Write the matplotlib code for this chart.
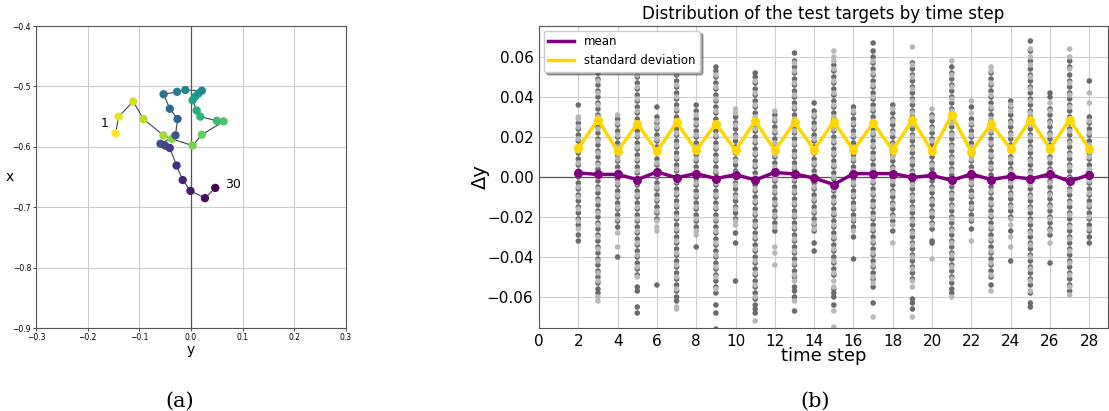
import numpy as np
import matplotlib
matplotlib.use('Agg')
import matplotlib.pyplot as plt

# ---- (a) trajectory, 30 steps (y, x) ----
traj_y = [-0.146, -0.140, -0.112, -0.092, -0.0535, -0.037, 0.003, 0.021, 0.063, 0.050,
          0.018, 0.011, 0.003, 0.008, 0.014, 0.021, -0.011, -0.027, -0.053, -0.041,
          -0.026, -0.030, -0.059, -0.050, -0.041, -0.028, -0.016, -0.001, 0.027, 0.047]
traj_x = [-0.5775, -0.550, -0.525, -0.554, -0.581, -0.587, -0.598, -0.580, -0.558, -0.557,
          -0.550, -0.540, -0.523, -0.517, -0.512, -0.507, -0.506, -0.509, -0.513, -0.537,
          -0.554, -0.581, -0.595, -0.598, -0.602, -0.631, -0.655, -0.673, -0.685, -0.668]

# ---- (b) distribution of test targets by time step (values in 1e-3) ----
steps = list(range(2, 29))
mean_vals = [2.0, 1.3, 1.3, -1.3, 2.5, -0.3, 1.7, -0.8, 1.2, -1.5, 2.3, 1.5, -0.5, -3.8,
             1.7, 1.7, 1.7, -0.2, 0.8, -1.7, 1.5, -1.3, 0.3, -1.0, 1.5, -2.2, 1.2]
std_vals = [14.3, 28.7, 12.8, 26.7, 12.8, 27.3, 13.3, 26.7, 13.3, 28.0, 13.3, 27.3, 13.7, 27.7,
            13.3, 27.0, 13.3, 28.7, 12.8, 31.0, 12.5, 26.7, 14.0, 28.7, 14.2, 28.7, 14.0]

dark_pts = [
    [36, 27, 24, 21, 18, 15, 12, 9, 6, 3, 0, -3, -6, -9, -12, -15, -18, -21, -24, -29, -32],  # 2
    [70, 66, 62, 58, 55, 52, 49, 46, 43, 40, 37, 34, 31, 28, 25, 22, 19, 16, 13, 10, 7, 4, 1, -2, -5,
     -8, -11, -14, -17, -20, -23, -26, -29, -32, -35, -38, -41, -44, -47, -50, -53, -56, -58],  # 3
    [29, 26, 23, 20, 17, 14, 11, 8, 5, 2, -1, -4, -7, -10, -13, -16, -19, -22, -25, -40],  # 4
    [69, 66, 62, 59, 56, 53, 50, 47, 44, 41, 38, 35, 32, 29, 26, 23, 20, 17, 14, 11, 8, 5, 2, -1, -4,
     -7, -10, -13, -16, -19, -22, -25, -28, -31, -34, -37, -40, -43, -46, -49, -55, -57, -65, -68],  # 5
    [35, 30, 27, 24, 21, 18, 15, 12, 9, 6, 3, 0, -3, -6, -9, -12, -15, -18, -21, -54],  # 6
    [70, 67, 63, 60, 57, 54, 51, 48, 45, 42, 39, 36, 33, 30, 27, 24, 21, 18, 15, 12, 9, 6, 3, 0, -3,
     -6, -9, -12, -15, -18, -21, -24, -27, -30, -33, -36, -39, -42, -45, -48, -51, -54, -57, -60, -62],  # 7
    [36, 33, 29, 26, 23, 20, 17, 14, 11, 8, 5, 2, -1, -4, -7, -10, -13, -16, -19, -22, -25, -35],  # 8
    [55, 53, 50, 47, 44, 41, 38, 35, 32, 29, 26, 23, 20, 17, 14, 11, 8, 5, 2, -1, -4, -7, -10, -13,
     -16, -19, -22, -25, -28, -31, -34, -37, -40, -43, -46, -49, -52, -55, -58, -64, -68, -76],  # 9
    [30, 27, 24, 21, 18, 15, 12, 9, 6, 3, 0, -3, -6, -9, -12, -15, -18, -21, -28, -33, -52],  # 10
    [52, 50, 47, 44, 41, 38, 35, 32, 29, 26, 23, 20, 17, 14, 11, 8, 5, 2, -1, -4, -7, -10, -13, -16,
     -19, -22, -25, -28, -31, -34, -37, -40, -43, -46, -49, -52, -55, -58, -61, -64, -66, -68],  # 11
    [31, 28, 25, 22, 19, 16, 13, 10, 7, 4, 1, -2, -5, -8, -11, -14, -17, -20, -23, -27],  # 12
    [62, 58, 55, 52, 49, 46, 43, 40, 37, 34, 31, 28, 25, 22, 19, 16, 13, 10, 7, 4, 1, -2, -5, -8,
     -11, -14, -17, -20, -23, -26, -29, -32, -35, -38, -41, -44, -47, -50, -55, -57, -60, -67],  # 13
    [37, 33, 30, 27, 24, 21, 18, 15, 12, 9, 6, 3, 0, -3, -6, -9, -12, -15, -18, -21, -24, -27, -33, -37],  # 14
    [56, 53, 50, 47, 44, 41, 38, 35, 32, 29, 26, 23, 20, 17, 14, 11, 8, 5, 2, -1, -4, -7, -10, -13,
     -16, -19, -22, -25, -28, -31, -34, -37, -40, -43, -46, -49, -56, -58, -60, -64],  # 15
    [35, 32, 29, 26, 23, 20, 17, 14, 11, 8, 5, 2, -1, -4, -7, -10, -13, -16, -19, -22, -25, -30, -41],  # 16
    [67, 63, 60, 57, 54, 51, 48, 45, 42, 39, 36, 33, 30, 27, 24, 21, 18, 15, 12, 9, 6, 3, 0, -3, -6,
     -9, -12, -15, -18, -21, -24, -27, -30, -33, -36, -39, -42, -45, -48, -51, -55, -63],  # 17
    [36, 32, 29, 26, 23, 20, 17, 14, 11, 8, 5, 2, -1, -4, -7, -10, -13, -16, -19, -22, -27],  # 18
    [57, 54, 51, 48, 45, 42, 39, 36, 33, 30, 27, 24, 21, 18, 15, 12, 9, 6, 3, 0, -3, -6, -9, -12,
     -15, -18, -21, -24, -27, -30, -33, -36, -39, -42, -45, -48, -51, -61, -63, -66],  # 19
    [31, 28, 25, 22, 19, 16, 13, 10, 7, 4, 1, -2, -5, -8, -11, -14, -17, -20, -23, -26, -32, -33],  # 20
    [55, 52, 49, 46, 43, 40, 37, 34, 31, 28, 25, 22, 19, 16, 13, 10, 7, 4, 1, -2, -5, -8, -11, -14,
     -17, -20, -23, -26, -29, -32, -35, -38, -41, -44, -47, -50, -53, -56, -58],  # 21
    [35, 29, 26, 23, 20, 17, 14, 11, 8, 5, 2, -1, -4, -7, -10, -13, -16, -19, -22, -26],  # 22
    [52, 49, 46, 43, 40, 37, 34, 31, 28, 25, 22, 19, 16, 13, 10, 7, 4, 1, -2, -5, -8, -11, -14, -17,
     -20, -23, -26, -29, -32, -35, -38, -41, -44, -47, -50, -54],  # 23
    [38, 35, 31, 28, 25, 22, 19, 16, 13, 10, 7, 4, 1, -2, -5, -8, -11, -14, -17, -20, -27, -42],  # 24
    [68, 63, 58, 54, 51, 48, 45, 42, 39, 36, 33, 30, 27, 24, 21, 18, 15, 12, 9, 6, 3, 0, -3, -6, -9,
     -12, -15, -18, -21, -24, -27, -30, -33, -36, -39, -42, -45, -48, -51, -54, -58, -63, -65],  # 25
    [42, 40, 34, 31, 28, 25, 22, 19, 16, 13, 10, 7, 4, 1, -2, -5, -8, -11, -14, -17, -20, -23, -26,
     -29, -43],  # 26
    [58, 55, 51, 48, 45, 42, 39, 36, 33, 30, 27, 24, 21, 18, 15, 12, 9, 6, 3, 0, -3, -6, -9, -12,
     -15, -18, -21, -24, -27, -30, -33, -36, -39, -42, -45, -48, -51, -54, -57],  # 27
    [48, 30, 27, 24, 21, 18, 15, 12, 9, 6, 3, 0, -3, -6, -9, -12, -15, -18, -21, -24, -27, -30, -33],  # 28
]
light_pts = [
    [30, 29, 25, 19, 13, 7, 1, -5, -10, -16, -22, -26],  # 2
    [64, 60, 54, 48, 42, 36, 30, 24, 18, 12, 6, 0, -6, -12, -18, -24, -30, -36, -42, -48, -52, -60, -62],  # 3
    [31, 27, 21, 15, 9, 3, -3, -9, -15, -21, -28, -35],  # 4
    [64, 57, 51, 45, 39, 33, 27, 21, 15, 9, 3, -3, -9, -15, -21, -27, -33, -39, -45, -50],  # 5
    [28, 25, 19, 13, 7, 1, -5, -11, -17, -22, -25, -27],  # 6
    [65, 58, 52, 46, 40, 34, 28, 22, 16, 10, 4, -2, -8, -14, -20, -26, -32, -38, -44, -50, -56, -65, -66],  # 7
    [31, 27, 21, 15, 9, 3, -3, -9, -15, -21, -27, -29],  # 8
    [51, 45, 39, 33, 27, 21, 15, 9, 3, -3, -9, -15, -21, -27, -33, -39, -45, -50, -56],  # 9
    [34, 32, 26, 20, 14, 8, 2, -4, -10, -16, -22, -24],  # 10
    [48, 42, 36, 30, 24, 18, 12, 6, 0, -6, -12, -18, -24, -30, -36, -42, -48, -54, -60, -72],  # 11
    [33, 29, 23, 17, 11, 5, -1, -7, -13, -19, -25, -35, -38, -44],  # 12
    [57, 53, 47, 41, 35, 29, 23, 17, 11, 5, -1, -7, -13, -19, -25, -31, -37, -43, -49, -52, -62],  # 13
    [31, 25, 19, 13, 7, 1, -5, -11, -17, -23, -26],  # 14
    [63, 60, 58, 54, 48, 42, 36, 30, 24, 18, 12, 6, 0, -6, -12, -18, -24, -30, -36, -42, -48, -52,
     -55, -67, -75],  # 15
    [33, 27, 21, 15, 9, 3, -3, -9, -15, -21, -27],  # 16
    [58, 52, 46, 40, 34, 28, 22, 16, 10, 4, -2, -8, -14, -20, -26, -32, -38, -44, -50, -53, -70],  # 17
    [34, 28, 22, 16, 10, 4, -2, -8, -14, -20, -24, -33],  # 18
    [65, 56, 50, 44, 38, 32, 26, 20, 14, 8, 2, -4, -10, -16, -22, -28, -34, -40, -46, -52, -55, -70],  # 19
    [34, 30, 24, 18, 12, 6, 0, -6, -12, -18, -24, -41],  # 20
    [58, 51, 45, 39, 33, 27, 21, 15, 9, 3, -3, -9, -15, -21, -27, -33, -39, -45, -51, -60],  # 21
    [38, 32, 27, 21, 15, 9, 3, -3, -9, -15, -21, -32],  # 22
    [55, 53, 47, 41, 35, 29, 23, 17, 11, 5, -1, -7, -13, -19, -25, -31, -37, -43, -49, -57],  # 23
    [36, 33, 27, 21, 15, 9, 3, -3, -9, -15, -21, -24, -30, -35],  # 24
    [64, 60, 56, 50, 44, 38, 32, 26, 20, 14, 8, 2, -4, -10, -16, -22, -28, -34, -40, -46, -52, -57],  # 25
    [37, 33, 27, 21, 15, 9, 3, -3, -9, -15, -21, -27, -33],  # 26
    [64, 60, 54, 47, 41, 35, 29, 23, 17, 11, 5, -1, -7, -13, -19, -25, -31, -37, -43, -49, -55, -59],  # 27
    [42, 37, 28, 22, 16, 10, 4, -2, -8, -14, -20, -26],  # 28
]

W, H = 1109, 411
fig = plt.figure(figsize=(W / 100, H / 100), dpi=100)

# ---------- (a) ----------
ax1 = fig.add_axes([36 / W, 1 - 328 / H, 310 / W, 302 / H])
n = len(traj_y)
cols = plt.cm.viridis(np.linspace(1, 0, n))
ax1.plot(traj_y, traj_x, '-', color='#444444', lw=0.8, zorder=2)
ax1.scatter(traj_y, traj_x, c=cols, s=36, edgecolors='none', zorder=3)
ax1.axvline(0, color='#555555', lw=0.9, zorder=1)
ax1.set_xlim(-0.3, 0.3)
ax1.set_ylim(-0.9, -0.4)
ax1.set_xticks(np.arange(-0.3, 0.31, 0.1))
ax1.set_yticks(np.arange(-0.9, -0.39, 0.1))
ax1.tick_params(labelsize=5.5, length=2, width=0.5, pad=1.5)
ax1.grid(True, color='#cccccc', lw=0.8)
ax1.set_axisbelow(True)
ax1.set_xlabel('y', fontsize=10, labelpad=1)
ax1.set_ylabel('x', fontsize=10, rotation=0, labelpad=2, va='center')
ax1.text(traj_y[0] - 0.022, traj_x[0] + 0.0165, '1', fontsize=9, ha='center', va='center')
ax1.text(traj_y[-1] + 0.034, traj_x[-1] + 0.006, '30', fontsize=9, ha='center', va='center')
for s in ax1.spines.values():
    s.set_color('#555555')
    s.set_linewidth(0.8)

# ---------- (b) ----------
ax2 = fig.add_axes([539 / W, 1 - 328 / H, 569 / W, 302 / H])
for st, d, l in zip(steps, dark_pts, light_pts):
    ax2.scatter([st] * len(d), np.array(d) / 1000, s=16, color='#6b6b6b', edgecolors='none', zorder=2)
    ax2.scatter([st] * len(l), np.array(l) / 1000, s=16, color='#b8b8b8', edgecolors='none', zorder=2.5)
ax2.axhline(0, color='#555555', lw=0.9, zorder=1)
ax2.plot(steps, np.array(mean_vals) / 1000, '-o', color='purple', lw=2.5, ms=5.5,
         label='mean', zorder=4)
ax2.plot(steps, np.array(std_vals) / 1000, '-o', color='gold', lw=2.5, ms=5.5,
         label='standard deviation', zorder=4)
ax2.set_xlim(0, 28.95)
ax2.set_ylim(-0.0755, 0.0755)
ax2.set_xticks(range(0, 29, 2))
ax2.set_yticks([-0.06, -0.04, -0.02, 0.0, 0.02, 0.04, 0.06])
ax2.tick_params(labelsize=11, length=0, pad=4)
ax2.grid(True, color='#d0d0d0', lw=0.8)
ax2.set_axisbelow(True)
ax2.set_xlabel('time step', fontsize=13, labelpad=-1)
ax2.set_ylabel('Δy', fontsize=14, labelpad=-2)
ax2.set_title('Distribution of the test targets by time step', fontsize=12, pad=5)
leg = ax2.legend(loc='upper left', fontsize=8.5, handlelength=2.2, borderaxespad=0.4, shadow=True)
for line in leg.get_lines():
    line.set_marker('')
for s in ax2.spines.values():
    s.set_color('#555555')

# captions
fig.text(180 / W, 1 - 401 / H, '(a)', fontsize=15, ha='center', va='center', family='serif')
fig.text(815 / W, 1 - 401 / H, '(b)', fontsize=15, ha='center', va='center', family='serif')

fig.savefig('out.png', dpi=100)
